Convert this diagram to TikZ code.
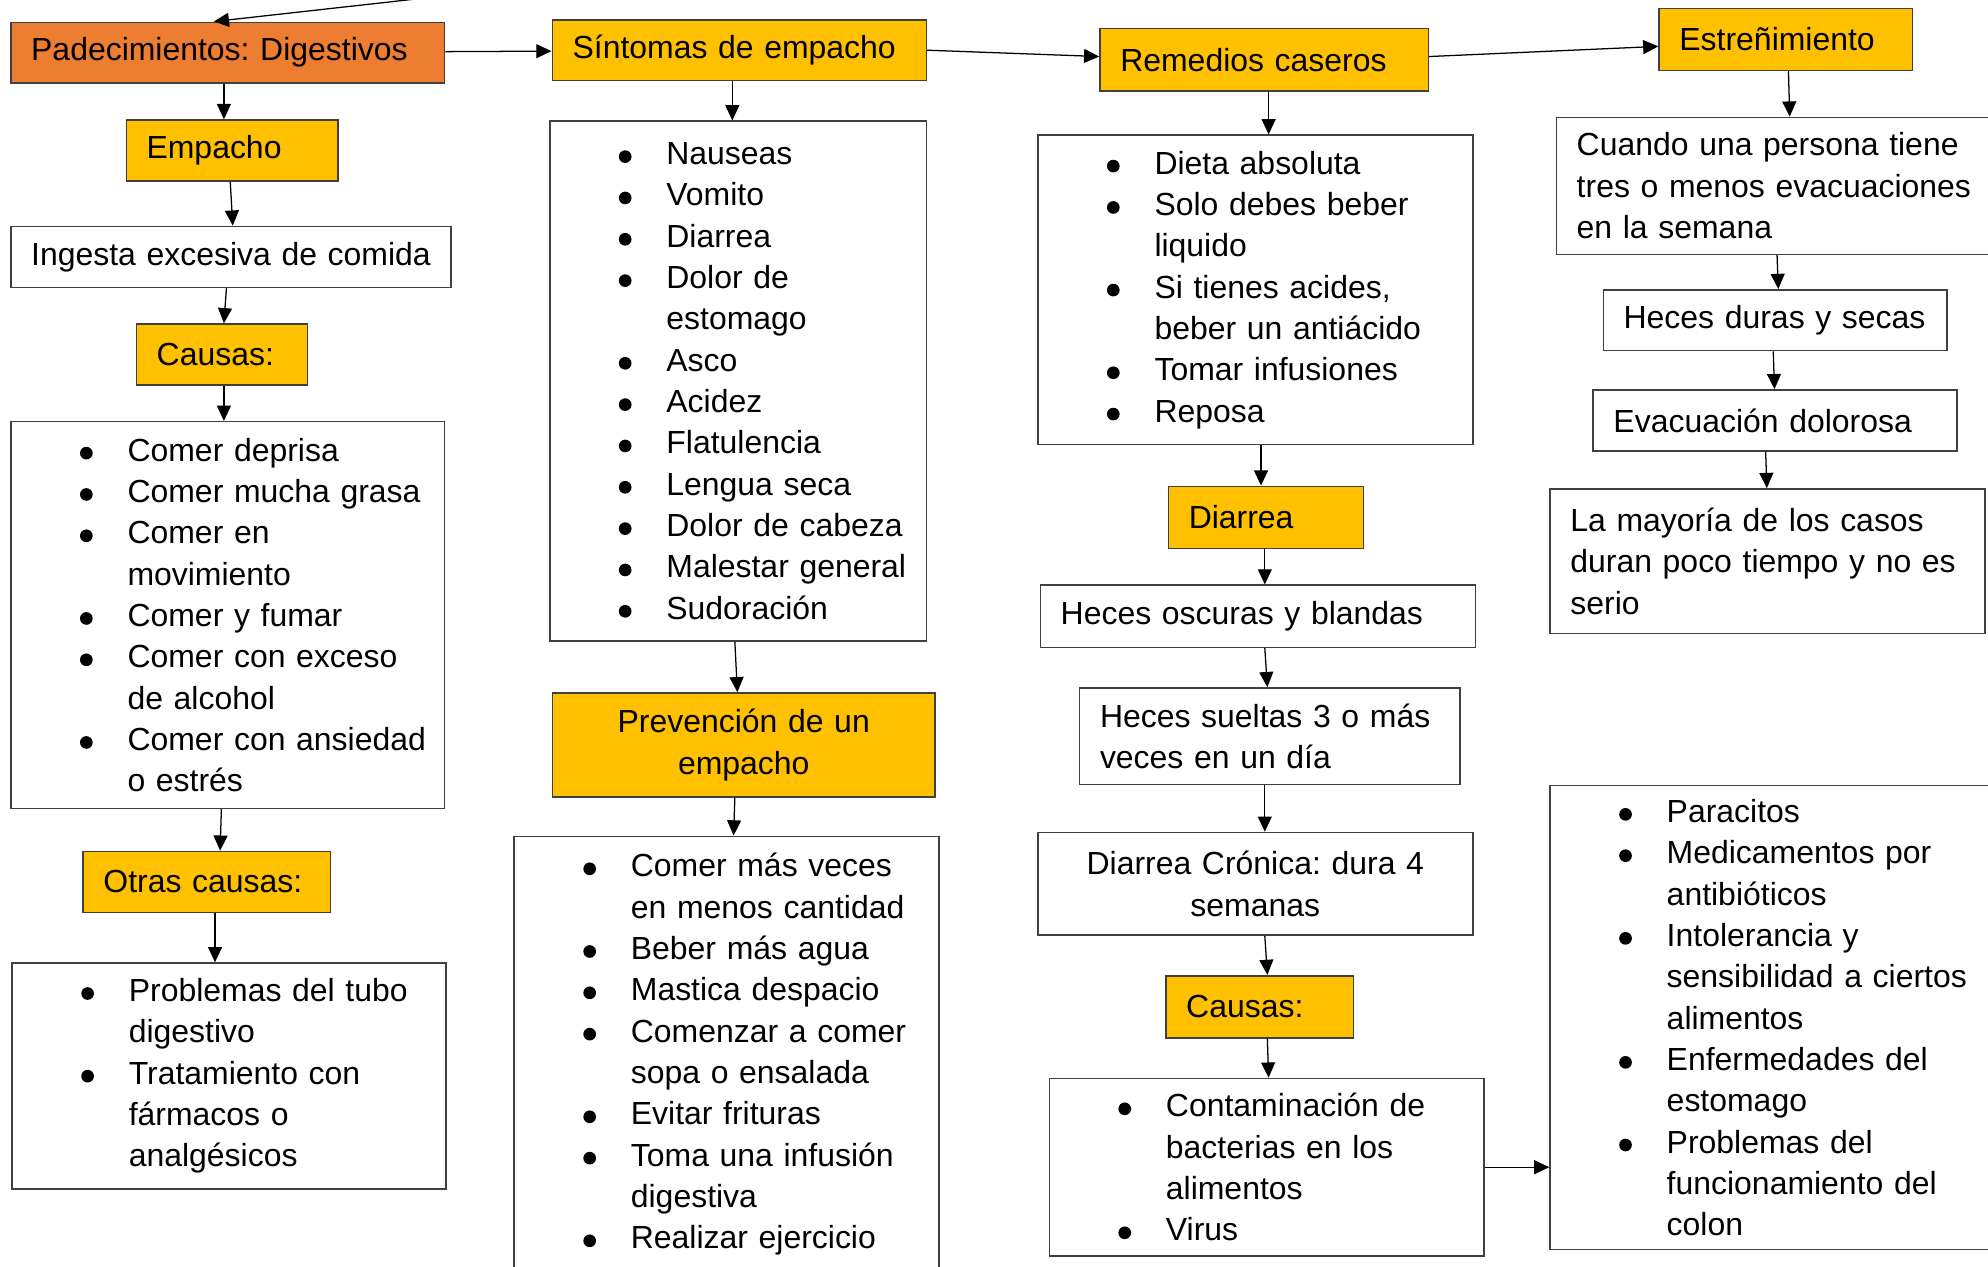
\documentclass[tikz,border=0pt]{standalone}
\usepackage{fontspec}
\setmainfont{Liberation Sans}
\usetikzlibrary{arrows.meta}
\definecolor{orng}{HTML}{ED7D31}
\definecolor{ylw}{HTML}{FFC000}
\frenchspacing
\newcommand{\bdot}{\tikz[baseline=-0.25em]\fill[black] (0,0) circle (2.5pt);}
\newcommand{\bitem}[1]{\noindent\hangindent=46pt\hangafter=1\makebox[46pt][l]{\hspace{27.25pt}\bdot}#1\par}
\begin{document}
\begin{tikzpicture}[x=0.5pt,y=-0.5pt,
 bx/.style={draw=black!75, line width=0.6pt, inner ysep=0pt, inner xsep=8pt, anchor=north west, align=left, font=\fontsize{12.6pt}{16.3pt}\selectfont},
 yb/.style={bx, fill=ylw},
 lst/.style={bx, inner xsep=0pt},
 arr/.style={-{Triangle[length=6pt,width=5.5pt]}, line width=0.5pt, black}]
\useasboundingbox (0,0) rectangle (1568,999);
\clip (0,0) rectangle (1568,999);
% column 1
\node[bx, fill=orng, minimum width=171pt, minimum height=24pt, text width=155pt] (pad) at (8,17) {\mbox{Padecimientos: Digestivos}};
\node[yb, minimum width=83.5pt, minimum height=24pt, text width=67.5pt] (emp) at (99,94) {Empacho};
\node[bx, minimum width=173.5pt, minimum height=24pt, text width=157.5pt] (ing) at (8,178) {\mbox{Ingesta excesiva de comida}};
\node[yb, minimum width=67.5pt, minimum height=24pt, text width=51.5pt] (cau1) at (107,255) {Causas:};
\node[lst, minimum width=171pt, minimum height=152.5pt, text width=171pt] (caulist) at (8,332) {\bitem{Comer deprisa}\bitem{Comer mucha grasa}\bitem{Comer en\newline movimiento}\bitem{Comer y fumar}\bitem{Comer con exceso\newline de alcohol}\bitem{Comer con ansiedad\newline o estrés}};
\node[yb, minimum width=97.5pt, minimum height=24pt, text width=81.5pt] (otras) at (65,671) {Otras causas:};
\node[lst, minimum width=171pt, minimum height=89pt, text width=171pt] (otraslist) at (9,759) {\bitem{Problemas del tubo\newline digestivo}\bitem{Tratamiento con\newline fármacos o\newline analgésicos}};
% column 2
\node[yb, minimum width=147.5pt, minimum height=24pt, text width=131.5pt] (sint) at (435,15) {Síntomas de empacho};
\node[lst, minimum width=148.5pt, minimum height=205pt, text width=148.5pt] (sintlist) at (433,95) {\bitem{Nauseas}\bitem{Vomito}\bitem{Diarrea}\bitem{Dolor de\newline estomago}\bitem{Asco}\bitem{Acidez}\bitem{Flatulencia}\bitem{Lengua seca}\bitem{Dolor de cabeza}\bitem{Malestar general}\bitem{Sudoración}};
\node[yb, minimum width=151pt, minimum height=41pt, text width=135pt, align=center] (prev) at (435,546) {Prevención de un\\empacho};
\node[lst, minimum width=167.5pt, minimum height=172pt, text width=167.5pt] (prevlist) at (405,659) {\bitem{Comer más veces\newline en menos cantidad}\bitem{Beber más agua}\bitem{Mastica despacio}\bitem{Comenzar a comer\newline sopa o ensalada}\bitem{Evitar frituras}\bitem{Toma una infusión\newline digestiva}\bitem{Realizar ejercicio}};
% column 3
\node[yb, minimum width=129.5pt, minimum height=24.5pt, text width=113.5pt] (rem) at (867,22) {Remedios caseros};
\node[lst, minimum width=171.5pt, minimum height=122pt, text width=171.5pt] (remlist) at (818,106) {\bitem{Dieta absoluta}\bitem{Solo debes beber\newline liquido}\bitem{Si tienes acides,\newline beber un antiácido}\bitem{Tomar infusiones}\bitem{Reposa}};
\node[yb, minimum width=77pt, minimum height=24.5pt, text width=61pt] (diar) at (921,383) {Diarrea};
\node[bx, minimum width=171.5pt, minimum height=24.5pt, text width=155.5pt] (hosc) at (820,461) {\mbox{Heces oscuras y blandas}};
\node[bx, minimum width=150pt, minimum height=38pt, text width=134pt] (hsue) at (851,542) {Heces sueltas 3 o más\\veces en un día};
\node[bx, minimum width=171.5pt, minimum height=40.5pt, text width=155.5pt, align=center] (cron) at (818,656) {Diarrea Crónica: dura 4\\semanas};
\node[yb, minimum width=74pt, minimum height=24.5pt, text width=58pt] (cau2) at (919,769) {Causas:};
\node[lst, minimum width=171.5pt, minimum height=70pt, text width=171.5pt] (cau2list) at (827,850) {\bitem{Contaminación de\newline bacterias en los\newline alimentos}\bitem{Virus}};
% column 4
\node[yb, minimum width=100pt, minimum height=24.5pt, text width=84pt] (estr) at (1308,6) {Estreñimiento};
\node[bx, minimum width=172.5pt, minimum height=54pt, text width=156.5pt] (cuan) at (1227,92) {\mbox{Cuando una persona tiene}\\\mbox{tres o menos evacuaciones}\\en la semana};
\node[bx, minimum width=135.5pt, minimum height=24pt, text width=119.5pt] (hdur) at (1264,228) {\mbox{Heces duras y secas}};
\node[bx, minimum width=143.5pt, minimum height=24pt, text width=127.5pt] (evac) at (1256,307) {\mbox{Evacuación dolorosa}};
\node[bx, minimum width=171.5pt, minimum height=57pt, text width=155.5pt, yshift=1pt] (mayo) at (1222,387) {\mbox{La mayoría de los casos}\\\mbox{duran poco tiempo y no es}\\serio};
\node[lst, minimum width=175pt, minimum height=183pt, text width=175pt] (parlist) at (1222,619) {\bitem{Paracitos}\bitem{Medicamentos por\newline antibióticos}\bitem{Intolerancia y\newline sensibilidad a ciertos\newline alimentos}\bitem{Enfermedades del\newline estomago}\bitem{Problemas del\newline funcionamiento del\newline colon}};
% connectors
\coordinate (top) at (330,-1);
\draw[arr] (top) -- ([xshift=-5.5pt]pad.north);
\draw[arr] (pad) -- (sint);
\draw[arr] ([xshift=-1.5pt]pad.south) -- ([xshift=-3.25pt]emp.north);
\draw[arr] ([xshift=-0.75pt]emp.south) -- ([xshift=0.75pt]ing.north);
\draw[arr] ([xshift=-1.75pt]ing.south) -- ([xshift=0.75pt]cau1.north);
\draw[arr] ([xshift=0.75pt]cau1.south) -- ([xshift=-1.5pt]caulist.north);
\draw[arr] ([xshift=-2.5pt]caulist.south) -- ([xshift=5.25pt]otras.north);
\draw[arr] ([xshift=3.25pt]otras.south) -- ([xshift=-5.5pt]otraslist.north);
\draw[arr] ([xshift=-2.75pt]sint.south) -- ([xshift=-2.25pt]sintlist.north);
\draw[arr] ([xshift=-1.25pt]sintlist.south) -- ([xshift=-2.5pt]prev.north);
\draw[arr] ([xshift=-3.5pt]prev.south) -- ([xshift=2.75pt]prevlist.north);
\draw[arr] (sint.east) -- ([yshift=1.25pt]rem.west);
\draw[arr] ([xshift=1.75pt]rem.south) -- ([xshift=5.25pt]remlist.north);
\draw[arr] ([xshift=2.25pt]remlist.south) -- ([xshift=-2pt]diar.north);
\draw[arr] ([xshift=-0.5pt]diar.south) -- ([xshift=2.75pt]hosc.north);
\draw[arr] ([xshift=2.75pt]hosc.south) -- ([xshift=-1pt]hsue.north);
\draw[arr] ([xshift=-2pt]hsue.south) -- ([xshift=3.75pt]cron.north);
\draw[arr] ([xshift=3.75pt]cron.south) -- ([xshift=3pt]cau2.north);
\draw[arr] ([xshift=3pt]cau2.south) -- ([xshift=0.75pt]cau2list.north);
\draw[arr] (cau2list.east) -- (parlist.west |- cau2list.east);
\draw[arr] ([yshift=1.25pt]rem.east) -- ([yshift=-2.75pt]estr.west);
\draw[arr] ([xshift=1pt]estr.south) -- ([xshift=5.75pt]cuan.north);
\draw[arr] ([xshift=0.75pt]cuan.south) -- ([xshift=1.25pt]hdur.north);
\draw[arr] ([xshift=-0.75pt]hdur.south) -- ([xshift=-0.25pt]evac.north);
\draw[arr] ([xshift=-3.75pt]evac.south) -- ([xshift=-0.25pt]mayo.north);
\end{tikzpicture}
\end{document}
